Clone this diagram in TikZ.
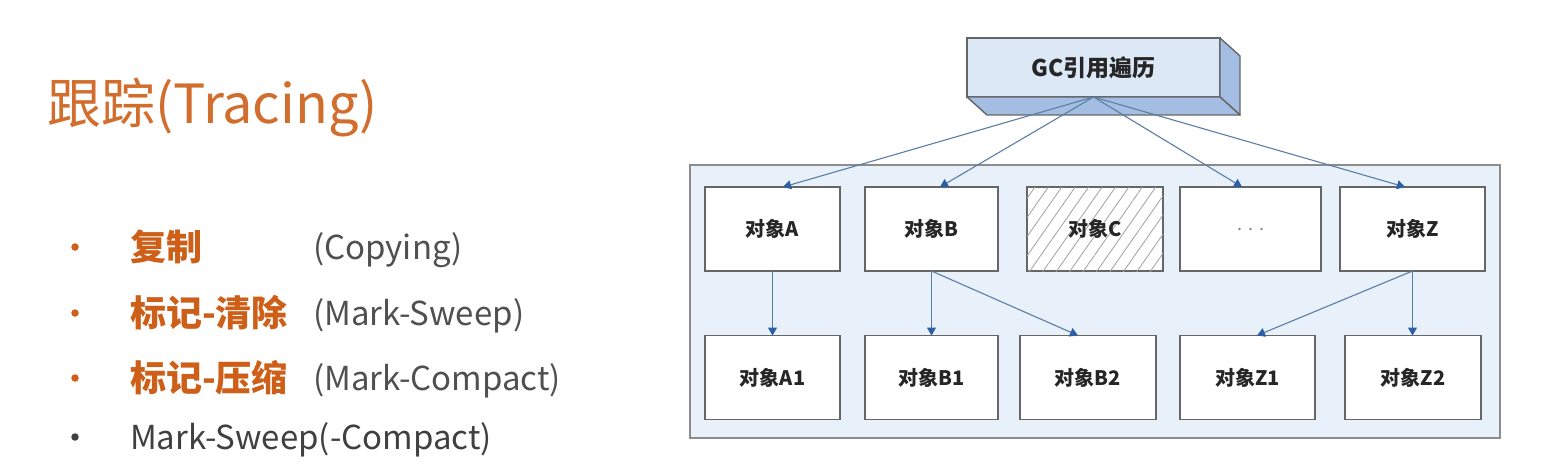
\documentclass[tikz,border=0pt]{standalone}
\usepackage{fontspec}
\setmainfont{Noto Sans CJK SC}
\usetikzlibrary{arrows.meta,patterns.meta,calc}
\definecolor{titleorange}{HTML}{D26E2D}
\definecolor{itemorange}{HTML}{CD5F19}
\definecolor{latingray}{HTML}{505050}
\definecolor{darkgray}{HTML}{404040}
\definecolor{contfill}{HTML}{E8F0FA}
\definecolor{contline}{HTML}{8C8C8C}
\definecolor{boxline}{HTML}{666666}
\definecolor{connline}{HTML}{5A7EA6}
\definecolor{tipblue}{HTML}{2D5DA5}
\definecolor{gcfront}{HTML}{DCE8F6}
\definecolor{gcface}{HTML}{A3BEE2}
\definecolor{labeltext}{HTML}{262626}
\definecolor{hatch}{HTML}{A0A0A0}
\begin{document}
\begin{tikzpicture}[x=1pt,y=-1pt,
  objbox/.style={draw=boxline,line width=1.6pt,fill=white,minimum width=#1,
    minimum height=84pt,inner sep=0pt,outer sep=0pt,
    font=\fontsize{20}{20}\selectfont\bfseries,text=labeltext},
  conn/.style={draw=connline,line width=1.1pt,
    -{Triangle[width=9pt,length=8pt,color=tipblue]}},
  bulletdot/.style={circle,fill=#1,inner sep=0pt,minimum size=7.5pt},
  cjkitem/.style={anchor=base west,inner sep=0pt,text=itemorange,
    font=\fontsize{36}{36}\selectfont\bfseries},
  latinitem/.style={anchor=base west,inner sep=0pt,text=latingray,
    font=\fontsize{33}{33}\selectfont},
]
\useasboundingbox[fill=white] (0,0) rectangle (1568,476);

% ---------- left text ----------
\node[anchor=base west,inner sep=0pt,text=titleorange,
  font=\fontsize{54}{54}\selectfont] (title) at (47,124) {跟踪(Tracing)};

\node[bulletdot=itemorange] (d1) at (75,247) {};
\node[bulletdot=itemorange] (d2) at (75,313) {};
\node[bulletdot=itemorange] (d3) at (75,378) {};
\node[bulletdot=darkgray] (d4) at (75,437) {};

\node[cjkitem] (c1) at (130,260) {复制};
\node[latinitem] (l1) at (313,259) {(Copying)};
\node[cjkitem] (c2) at (130,326) {标记-清除};
\node[latinitem] (l2) at (313,325) {(Mark-Sweep)};
\node[cjkitem] (c3) at (130,391) {标记-压缩};
\node[latinitem] (l3) at (313,390) {(Mark-Compact)};
\node[latinitem,text=darkgray] (l4) at (130,449) {Mark-Sweep(-Compact)};

% ---------- right diagram ----------
\node[draw=contline,fill=contfill,line width=1.8pt,minimum width=810pt,
  minimum height=273pt,inner sep=0pt,outer sep=0pt] (cont) at (1095,301.5) {};

% GC box (3D)
\node[draw=boxline,fill=gcfront,line width=1.4pt,minimum width=253pt,
  minimum height=59pt,inner sep=0pt,outer sep=0pt,text=labeltext,
  font=\fontsize{23}{23}\selectfont\bfseries] (GC) at (1093.5,67.5) {GC引用遍历};
\draw[draw=boxline,fill=gcface,line width=1.4pt,line join=round]
  (GC.north east) -- ++(20,18) -- ++(0,59) -- (GC.south east) -- cycle;
\draw[draw=boxline,fill=gcface,line width=1.4pt,line join=round]
  (GC.south west) -- (GC.south east) -- ++(20,18)
  -- ($(GC.south west)+(20,18)$) -- cycle;

% objects
\node[objbox=135pt] (A) at (772.5,229) {对象A};
\node[objbox=133pt] (B) at (931.5,229) {对象B};
\node[objbox=136pt,postaction={pattern={Lines[angle=55,distance=11pt,line width=0.8pt]},pattern color=hatch}] (C) at (1095,229) {对象C};
\node[objbox=141pt,text=gray,font=\fontsize{18}{18}\selectfont] (D) at (1250.5,229) {.\hspace{6pt}.\hspace{6pt}.};
\node[objbox=145pt] (Z) at (1412.5,229) {对象Z};

\node[objbox=135pt] (A1) at (772.5,377.5) {对象A1};
\node[objbox=133pt] (B1) at (931.5,377.5) {对象B1};
\node[objbox=136pt] (B2) at (1088,377.5) {对象B2};
\node[objbox=135pt] (Z1) at (1247.5,377.5) {对象Z1};
\node[objbox=136pt] (Z2) at (1413,377.5) {对象Z2};

% connectors
\draw[conn] (GC.south) -- ([xshift=10.5pt]A.north);
\draw[conn] (GC.south) -- ([xshift=8.5pt]B.north);
\draw[conn] (GC.south) -- ([xshift=-8.5pt]D.north);
\draw[conn] (GC.south) -- ([xshift=-7.5pt]Z.north);

\draw[conn] (A.south) -- (A1.north);
\draw[conn] (B.south) -- (B1.north);
\draw[conn] (B.south) -- ([xshift=-10pt]B2.north);
\draw[conn] (Z.south) -- ([xshift=9.5pt]Z1.north);
\draw[conn] (Z.south) -- (Z.south |- Z2.north);
\end{tikzpicture}
\end{document}
